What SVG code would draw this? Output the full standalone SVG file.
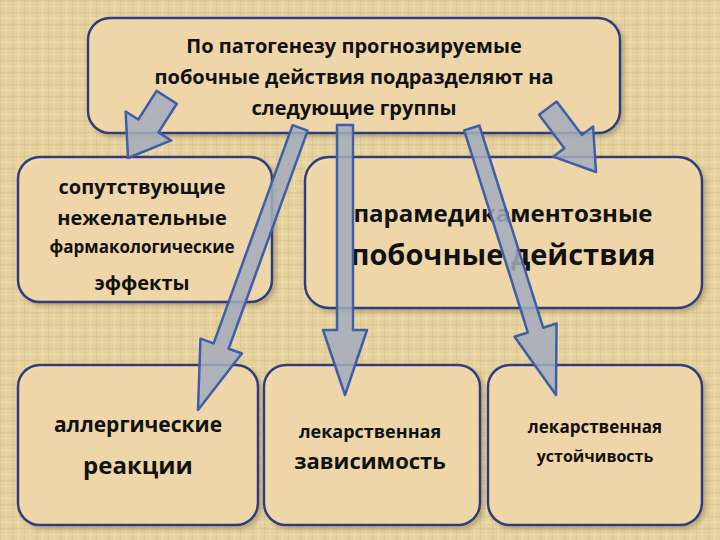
<svg xmlns="http://www.w3.org/2000/svg" width="720" height="540" viewBox="0 0 720 540">
<defs>
<pattern id="grid" width="12" height="12" patternUnits="userSpaceOnUse">
<rect width="12" height="12" fill="#e6d29f"/>
<path d="M0 0.5H12M0.5 0V12" stroke="#d9c088" stroke-width="1.5" opacity="0.6"/>
<path d="M0 6.5H12M6.5 0V12" stroke="#efe0b8" stroke-width="1" opacity="0.7"/>
</pattern>
<filter id="sh" x="-10%" y="-10%" width="130%" height="130%"><feDropShadow dx="3" dy="3" stdDeviation="2" flood-color="#7a6a4a" flood-opacity="0.45"/></filter>
</defs>
<style>
.box{fill:#f4dcae;fill-opacity:0.85;stroke:#2f3e7e;stroke-width:2.5;filter:url(#sh)}
.arr{fill:#a3adbc;fill-opacity:0.85;stroke:#3d5ea8;stroke-width:2.5;stroke-linejoin:round}
text{font-family:"Open Sans","Liberation Sans",sans-serif;font-weight:bold;fill:#111;text-anchor:middle}
</style>
<rect width="720" height="540" fill="url(#grid)"/>
<g id="top"><rect class="box" x="88" y="18" width="532" height="115" rx="22"/>
<text x="354" y="53" font-size="20">По патогенезу прогнозируемые</text>
<text x="354" y="84" font-size="20">побочные действия подразделяют на</text>
<text x="354" y="115" font-size="20">следующие группы</text></g>
<g id="left"><rect class="box" x="18" y="157" width="254" height="145" rx="22"/>
<text x="142" y="194" font-size="20">сопутствующие</text>
<text x="142" y="225" font-size="20">нежелательные</text>
<text x="142" y="253" font-size="17">фармакологические</text>
<text x="142" y="290" font-size="20">эффекты</text></g>
<g id="right"><rect class="box" x="305" y="157" width="397" height="151" rx="24"/>
<text x="503" y="222" font-size="24" font-weight="normal">парамедикаментозные</text>
<text x="503" y="265" font-size="29">побочные действия</text></g>
<g id="b1"><rect class="box" x="18" y="365" width="240" height="160" rx="22"/>
<text x="138" y="432" font-size="21">аллергические</text>
<text x="138" y="474" font-size="24">реакции</text></g>
<g id="b2"><rect class="box" x="264" y="365" width="216" height="160" rx="22"/>
<text x="370" y="438" font-size="18" font-weight="normal">лекарственная</text>
<text x="370" y="469" font-size="22">зависимость</text></g>
<g id="b3"><rect class="box" x="488" y="365" width="214" height="160" rx="22"/>
<text x="595" y="433" font-size="17" font-weight="normal">лекарственная</text>
<text x="595" y="462" font-size="16">устойчивость</text></g>
<g id="connectors">
<polygon class="arr" transform="translate(128,158) rotate(122.5)" points="0,0 -38,-27 -38,-12 -72,-12 -72,12 -38,12 -38,27"/>
<polygon class="arr" transform="translate(596,172) rotate(53)" points="0,0 -38,-25 -38,-11 -80,-11 -80,11 -38,11 -38,25"/>
<polygon class="arr" transform="translate(198,410) rotate(109.9)" points="0,0 -68,-22 -68,-8 -300,-8 -300,8 -68,8 -68,22"/>
<polygon class="arr" transform="translate(345,395) rotate(90)" points="0,0 -65,-22 -65,-8 -270,-8 -270,8 -65,8 -65,22"/>
<polygon class="arr" transform="translate(556,395) rotate(72.5)" points="0,0 -68,-22 -68,-8 -280,-8 -280,8 -68,8 -68,22"/>
</g>
</svg>
